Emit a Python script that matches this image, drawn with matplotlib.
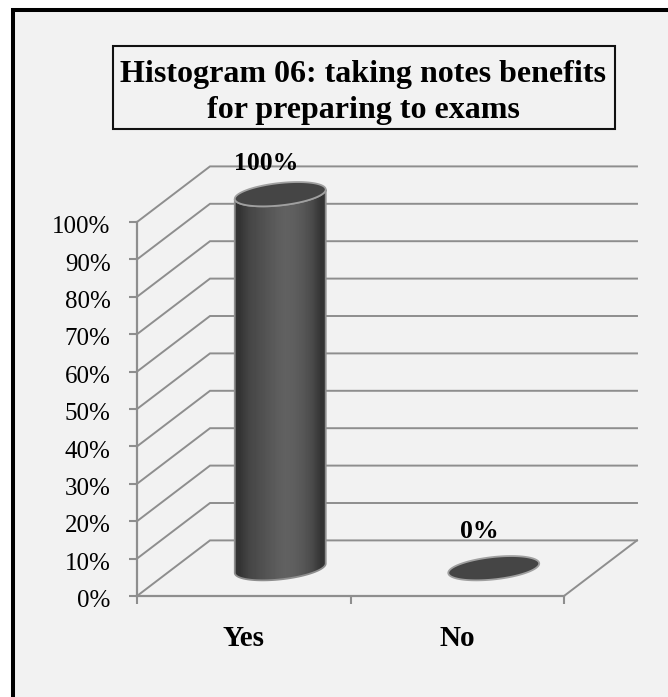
import numpy as np
import matplotlib
matplotlib.use("Agg")
import matplotlib.pyplot as plt
from matplotlib.patches import Rectangle, Polygon
from matplotlib.transforms import ScaledTranslation

plt.rcParams['font.family'] = ['Liberation Serif', 'DejaVu Serif']

categories = ['Yes', 'No']
values = [100, 0]
value_labels = ['100%', '0%']
y_ticks = [0, 10, 20, 30, 40, 50, 60, 70, 80, 90, 100]
title = 'Histogram 06: taking notes benefits\nfor preparing to exams'

W, H = 668, 697
GRID = '#8e8e8e'
BG = '#f2f2f2'

# pixel box of the front plane of the chart
LEFT, RIGHT, TOP, BOTTOM = 137, 564, 222, 596

# 3d depth of the walls, in data units
depth_x = 73 / ((RIGHT - LEFT) / 2)
depth_y = 55.6 / ((BOTTOM - TOP) / 100)
# cylinder ellipse, in data units
ell_a = 0.213
ell_b = 3.0
ell_tilt = 1.25


def ellipse_xy(cx, cy, t):
    return cx + ell_a * np.cos(t), cy + ell_b * np.sin(t) + ell_tilt * np.cos(t)


fig = plt.figure(figsize=(W / 100, H / 100), dpi=100, facecolor='white')
ax = fig.add_axes([LEFT / W, 1 - BOTTOM / H, (RIGHT - LEFT) / W, (BOTTOM - TOP) / H])
ax.patch.set_alpha(0)
ax.set_xlim(0, 2)
ax.set_ylim(0, 100)

# outer frame runs off the right and bottom of the picture
fig.patches.append(Rectangle((13.3 / W, 1 - (H + 10) / H), (W + 10) / W, (H + 10 - 9.7) / H,
                             transform=fig.transFigure, facecolor=BG, edgecolor='black',
                             linewidth=2.9, zorder=-5))
# title box
fig.patches.append(Rectangle((113 / W, 1 - 128.5 / H), 501.5 / W, 82.5 / H, transform=fig.transFigure,
                             facecolor=BG, edgecolor='#111111', linewidth=1.5, zorder=-4))
fig.text(363.5 / W, 1 - 92.5 / H, title, ha='center', va='center', fontsize=23, fontweight='bold',
         linespacing=1.36, color='black')

# walls and floor
for v in y_ticks:
    ax.plot([0, depth_x, 2 + depth_x], [v, v + depth_y, v + depth_y], color=GRID, lw=1.4,
            clip_on=False, zorder=1, solid_joinstyle='miter')
ax.plot([2, 2 + depth_x], [0, depth_y], color=GRID, lw=1.4, clip_on=False, zorder=1)

# cylinders
for i, v in enumerate(values):
    cx = i + 0.5 + depth_x / 2
    cy = depth_y / 2
    t_top = np.linspace(0, 2 * np.pi, 100)
    if v > 0:
        t_low = np.linspace(np.pi, 2 * np.pi, 50)
        bx, by = ellipse_xy(cx, cy, t_low)
        ux, uy = ellipse_xy(cx, cy + v, t_low[::-1])
        body = Polygon(np.column_stack([np.r_[bx, ux], np.r_[by, uy]]), closed=True,
                       facecolor='none', edgecolor=GRID, lw=1.3, clip_on=False, zorder=4)
        ax.add_patch(body)
        shade = np.array([[0.20, 0.27, 0.30, 0.33, 0.36, 0.38, 0.37, 0.34, 0.29, 0.20]])
        img = ax.imshow(shade, cmap='gray', vmin=0, vmax=1, extent=[cx - ell_a, cx + ell_a, 0, v + depth_y],
                        aspect='auto', interpolation='bilinear', zorder=3)
        img.set_clip_box(fig.bbox)
        img.set_clip_path(Polygon(body.get_xy(), closed=True, transform=ax.transData))
        ax.set_xlim(0, 2)
        ax.set_ylim(0, 100)
    ex, ey = ellipse_xy(cx, cy + v, t_top)
    ax.add_patch(Polygon(np.column_stack([ex, ey]), closed=True, facecolor='#454545', edgecolor='#a0a0a0',
                         lw=1.3, clip_on=False, zorder=5))
    off = 31 if v > 0 else 37
    ax.annotate(value_labels[i], (cx, cy + v), xytext=(-14, off), textcoords='offset pixels', ha='center',
                va='center', fontsize=18.5, fontweight='bold', color='black', annotation_clip=False, zorder=6)

# axes
for side in ['top', 'right']:
    ax.spines[side].set_visible(False)
for side in ['left', 'bottom']:
    ax.spines[side].set_color(GRID)
    ax.spines[side].set_linewidth(1.6)
ax.set_yticks(y_ticks)
ax.set_yticklabels([f'{v}%' for v in y_ticks], fontsize=18)
ax.set_xticks([0, 1, 2])
ax.set_xticklabels([])
ax.set_xticks([0.5, 1.5], minor=True)
ax.set_xticklabels(categories, minor=True, fontsize=21, fontweight='bold')
ax.tick_params(axis='both', which='major', color=GRID, width=1.5, length=6)
ax.tick_params(axis='y', pad=13)
ax.tick_params(axis='x', which='minor', length=0, pad=21)

# labels sit a little low in the reference
nudge = ScaledTranslation(0, -2 / 72, fig.dpi_scale_trans)
for lab in ax.get_yticklabels():
    lab.set_transform(lab.get_transform() + nudge)

fig.savefig('out.png', dpi=100, facecolor='white')
